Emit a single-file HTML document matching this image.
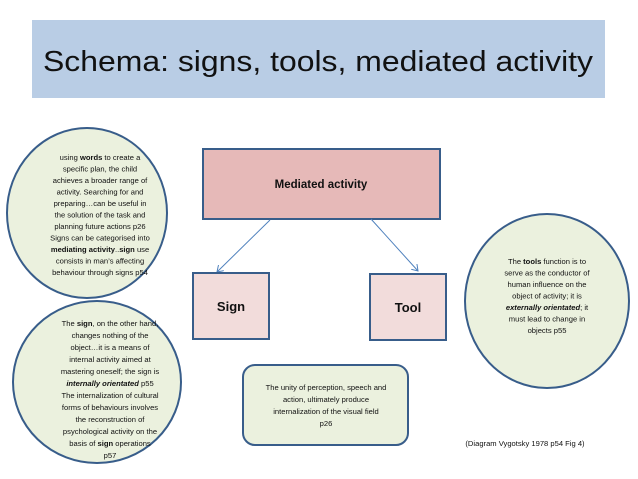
<!DOCTYPE html>
<html><head><meta charset="utf-8"><style>
html,body{margin:0;padding:0;background:#fff;}
svg{display:block;font-family:"Liberation Sans",sans-serif;}
</style></head><body>
<svg width="638" height="479" viewBox="0 0 638 479" xmlns="http://www.w3.org/2000/svg">
<defs>
<marker id="ar" markerWidth="8" markerHeight="8" refX="6" refY="4" orient="auto" markerUnits="userSpaceOnUse">
<path d="M0,0 L6,4 L0,8" fill="none" stroke="#4f81bd" stroke-width="1"/>
</marker>
</defs>
<rect x="32" y="20" width="573" height="78" fill="#b9cde5"/>
<text x="318" y="71" font-size="29" text-anchor="middle" textLength="550" lengthAdjust="spacingAndGlyphs" fill="#111">Schema: signs, tools, mediated activity</text>

<ellipse cx="87" cy="213" rx="80" ry="85" fill="#ebf1de" stroke="#385d8a" stroke-width="2"/>
<g font-size="7.6" text-anchor="middle" fill="#111">
<text x="100" y="160">using <tspan font-weight="bold">words</tspan> to create a</text>
<text x="100" y="171.5">specific plan, the child</text>
<text x="100" y="183">achieves a broader range of</text>
<text x="100" y="194.5">activity. Searching for and</text>
<text x="100" y="206">preparing…can be useful in</text>
<text x="100" y="217.5">the solution of the task and</text>
<text x="100" y="229">planning future actions p26</text>
<text x="100" y="240.5">Signs can be categorised into</text>
<text x="100" y="252"><tspan font-weight="bold">mediating activity</tspan>..<tspan font-weight="bold">sign</tspan> use</text>
<text x="100" y="263.5">consists in man’s affecting</text>
<text x="100" y="275">behaviour through signs p54</text>
</g>

<ellipse cx="97" cy="382" rx="84" ry="81" fill="#ebf1de" stroke="#385d8a" stroke-width="2"/>
<g font-size="7.6" text-anchor="middle" fill="#111">
<text x="110" y="326">The <tspan font-weight="bold">sign</tspan>, on the other hand,</text>
<text x="110" y="338">changes nothing of the</text>
<text x="110" y="350">object…it is a means of</text>
<text x="110" y="362">internal activity aimed at</text>
<text x="110" y="374">mastering oneself; the sign is</text>
<text x="110" y="386" font-weight="bold" font-style="italic">internally orientated<tspan font-weight="normal" font-style="normal"> p55</tspan></text>
<text x="110" y="398">The internalization of cultural</text>
<text x="110" y="410">forms of behaviours involves</text>
<text x="110" y="422">the reconstruction of</text>
<text x="110" y="434">psychological activity on the</text>
<text x="110" y="446">basis of <tspan font-weight="bold">sign</tspan> operations</text>
<text x="110" y="458">p57</text>
</g>

<rect x="203" y="149" width="237" height="70" fill="#e6b9b8" stroke="#385d8a" stroke-width="2"/>
<text x="321" y="188" font-size="11.5" font-weight="bold" text-anchor="middle" fill="#111">Mediated activity</text>

<line x1="270" y1="220" x2="217" y2="272" stroke="#4f81bd" stroke-width="1" marker-end="url(#ar)"/>
<line x1="371" y1="219" x2="418" y2="271" stroke="#4f81bd" stroke-width="1" marker-end="url(#ar)"/>

<rect x="193" y="273" width="76" height="66" fill="#f2dcdb" stroke="#385d8a" stroke-width="2"/>
<text x="231" y="311" font-size="13" font-weight="bold" text-anchor="middle" fill="#111">Sign</text>
<rect x="370" y="274" width="76" height="66" fill="#f2dcdb" stroke="#385d8a" stroke-width="2"/>
<text x="408" y="312" font-size="13" font-weight="bold" text-anchor="middle" fill="#111">Tool</text>

<ellipse cx="547" cy="301" rx="82" ry="87" fill="#ebf1de" stroke="#385d8a" stroke-width="2"/>
<g font-size="7.6" text-anchor="middle" fill="#111">
<text x="547" y="264">The <tspan font-weight="bold">tools</tspan> function is to</text>
<text x="547" y="275.5">serve as the conductor of</text>
<text x="547" y="287">human influence on the</text>
<text x="547" y="298.5">object of activity; it is</text>
<text x="547" y="310"><tspan font-weight="bold" font-style="italic">externally orientated</tspan>; it</text>
<text x="547" y="321.5">must lead to change in</text>
<text x="547" y="333">objects p55</text>
</g>

<rect x="243" y="365" width="165" height="80" rx="12" ry="12" fill="#ebf1de" stroke="#385d8a" stroke-width="2"/>
<g font-size="7.6" text-anchor="middle" fill="#111">
<text x="326" y="390">The unity of perception, speech and</text>
<text x="326" y="402">action, ultimately produce</text>
<text x="326" y="414">internalization of the visual field</text>
<text x="326" y="426">p26</text>
</g>

<text x="525" y="446" font-size="7.6" text-anchor="middle" fill="#111">(Diagram Vygotsky 1978 p54 Fig 4)</text>
</svg>
</body></html>
